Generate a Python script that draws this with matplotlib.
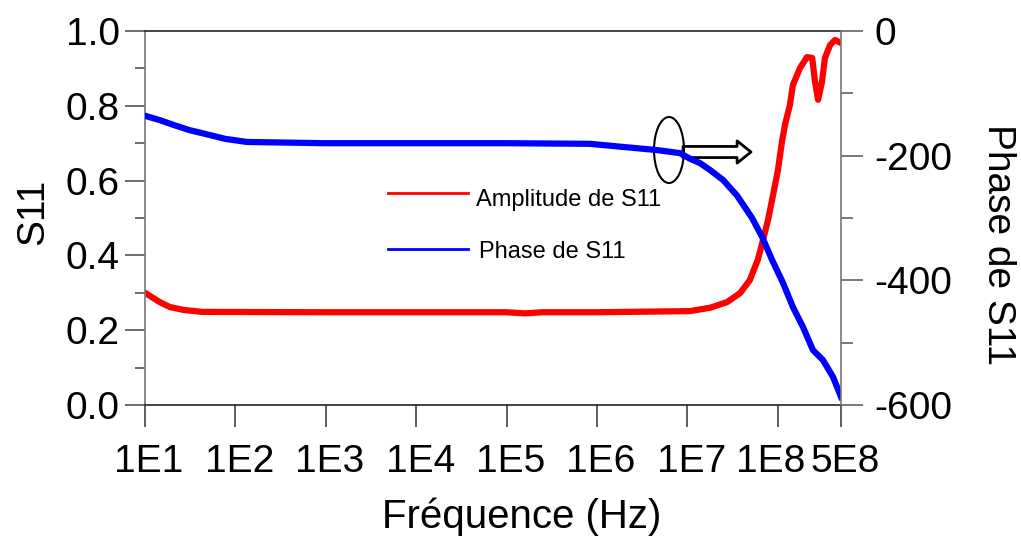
import matplotlib
matplotlib.use("Agg")
import matplotlib.pyplot as plt
from matplotlib.patches import Ellipse
from matplotlib.ticker import NullLocator, MultipleLocator
from matplotlib.transforms import ScaledTranslation

plt.rcParams['font.family'] = ['Liberation Sans', 'DejaVu Sans']
plt.rcParams['axes.unicode_minus'] = False

# --------------------------------------------------------
# DATA
# --------------------------------------------------------
amp_freq = [10, 14.6, 18.8, 27, 43, 1e3, 1e4, 1e5, 1.6e5, 2.5e5, 1e6, 1.07e7,
            1.78e7, 2.74e7, 3.82e7, 4.9e7, 6.0e7, 6.86e7, 7.8e7, 8.85e7,
            1.0e8, 1.11e8, 1.2e8, 1.36e8, 1.47e8, 1.76e8, 2.1e8, 2.4e8,
            2.58e8, 2.79e8, 3.08e8, 3.32e8, 3.8e8, 4.3e8, 5e8]
amp_val = [0.30, 0.275, 0.262, 0.254, 0.249, 0.248, 0.248, 0.248, 0.245, 0.248,
           0.248, 0.251, 0.260, 0.275, 0.299, 0.334, 0.388, 0.441, 0.495, 0.561,
           0.626, 0.703, 0.749, 0.802, 0.856, 0.901, 0.930, 0.928,
           0.864, 0.816, 0.864, 0.928, 0.963, 0.976, 0.968]

phase_freq = [10, 14.6, 21, 31, 46, 77, 134, 930, 1e4, 1e5, 8.4e5, 1.94e6,
              4.6e6, 8.3e6, 1.07e7, 1.38e7, 1.78e7, 2.48e7, 3.54e7, 5.19e7,
              6.69e7, 8.63e7, 1.14e8, 1.47e8, 1.9e8, 2.45e8, 3.16e8, 4.08e8, 5e8]
phase_val = [-136, -143, -151, -159, -165, -173, -178, -180, -180, -180, -181,
             -186, -191, -196, -205, -212, -223, -239, -264, -300,
             -330, -367, -404, -443, -475, -512, -528, -555, -587]

xticks = [1e1, 1e2, 1e3, 1e4, 1e5, 1e6, 1e7, 1e8, 5e8]
xtick_labels = ["1E1", "1E2", "1E3", "1E4", "1E5", "1E6", "1E7", "1E8", "5E8"]

# --------------------------------------------------------
# PLOT
# --------------------------------------------------------
fig = plt.figure(figsize=(10.21, 5.40), dpi=100)
ax = fig.add_axes([0.142, 0.25, 0.6817, 0.6926])
ax2 = ax.twinx()

ax.plot(amp_freq, amp_val, color="#FF0000", lw=4.5)
ax2.plot(phase_freq, phase_val, color="#0000FF", lw=4.5)

ax.set_xscale("log")
ax.set_xlim(10, 5e8)
ax.set_ylim(0, 1.0)
ax2.set_ylim(-600, 0)

ax.set_xticks(xticks)
ax.set_xticklabels(xtick_labels)
ax.xaxis.set_minor_locator(NullLocator())
ax.yaxis.set_major_locator(MultipleLocator(0.2))
ax.yaxis.set_minor_locator(MultipleLocator(0.1))
ax.set_yticklabels([f"{v:.1f}" for v in ax.get_yticks()])
ax2.yaxis.set_major_locator(MultipleLocator(200))
ax2.yaxis.set_minor_locator(MultipleLocator(100))

ax.tick_params(axis="x", which="major", direction="out", length=16, width=1.1,
               pad=12, labelsize=28, color="#333333")
ax.tick_params(axis="y", which="major", direction="out", length=14.5, width=1.1,
               pad=3.5, labelsize=28, color="#444444")
ax.tick_params(axis="y", which="minor", direction="out", length=7, width=1.1,
               color="#444444")
ax2.tick_params(axis="y", which="major", direction="out", length=16, width=1.1,
                pad=8, labelsize=28, color="#555555")
ax2.tick_params(axis="y", which="minor", direction="out", length=8.5, width=1.1,
                color="#555555")

# the original software nudges the crowded labels near the right end
for lab, dx in zip(ax.get_xticklabels(), [4, 4, 4, 4, 4, 4, 4, -7, 4]):
    lab.set_transform(lab.get_transform() +
                      ScaledTranslation(dx / 100, 0, fig.dpi_scale_trans))

for s in ["top", "bottom"]:
    ax.spines[s].set_color("#222222")
    ax.spines[s].set_linewidth(1.2)
ax.spines["left"].set_color("#777777")
ax.spines["left"].set_linewidth(1.2)
ax.spines["right"].set_visible(False)
for s in ["top", "bottom", "left"]:
    ax2.spines[s].set_visible(False)
ax2.spines["right"].set_color("#777777")
ax2.spines["right"].set_linewidth(1.2)

# in-plot legend
ax.plot([0.349, 0.464], [0.5668, 0.5668], color="#FF0000", lw=2,
        transform=ax.transAxes)
ax.plot([0.349, 0.464], [0.4171, 0.4171], color="#0000FF", lw=2,
        transform=ax.transAxes)
ax.text(0.4756, 0.532, "Amplitude de S11", fontsize=17, transform=ax.transAxes,
        va="baseline", ha="left")
ax.text(0.4799, 0.393, "Phase de S11", fontsize=17, transform=ax.transAxes,
        va="baseline", ha="left")

# ellipse + hollow arrow pointing to the right axis
ax.add_patch(Ellipse((0.7529, 0.6818), 0.0431, 0.1765, transform=ax.transAxes,
                     fill=False, ec="black", lw=1.5, zorder=5))
ax.annotate("", xy=(751, 388), xycoords="figure pixels",
            xytext=(683, 388), textcoords="figure pixels",
            arrowprops=dict(arrowstyle="simple,head_length=1.0,head_width=1.6,tail_width=0.8",
                            fc="white", ec="black", lw=2, mutation_scale=10,
                            shrinkA=0, shrinkB=0))

# axis labels
fig.text(0.033, 0.6074, "S11", fontsize=28, rotation=90, ha="center", va="center")
fig.text(0.9775, 0.5463, "Phase de S11", fontsize=28, rotation=-90,
         ha="center", va="center")
fig.text(522 / 1021, 0.022, "Fréquence (Hz)", fontsize=29, ha="center",
         va="baseline")

fig.savefig("out.png", dpi=100)
